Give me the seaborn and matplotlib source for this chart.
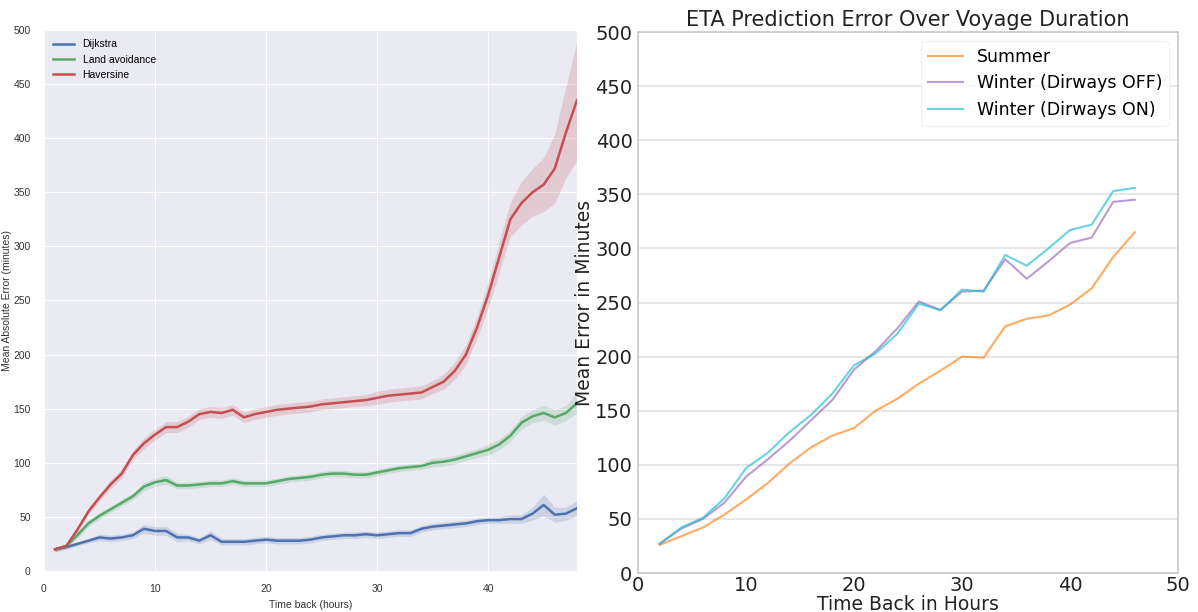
import matplotlib
matplotlib.use("Agg")
import matplotlib.pyplot as plt
import seaborn as sns
import pandas as pd

# ---- left panel: error vs hours back, three routing methods ----
hours = list(range(1, 49))
dijkstra = [20, 22, 25, 28, 31, 30, 31, 33, 39, 37, 37, 31, 31, 28, 33, 27,
            27, 27, 28, 29, 28, 28, 28, 29, 31, 32, 33, 33, 34, 33, 34, 35,
            35, 39, 41, 42, 43, 44, 46, 47, 47, 48, 48, 53, 61, 52, 53, 58]
land_avoid = [20, 23, 33, 44, 51, 57, 63, 69, 78, 82, 84, 79, 79, 80, 81, 81,
              83, 81, 81, 81, 83, 85, 86, 87, 89, 90, 90, 89, 89, 91, 93, 95,
              96, 97, 100, 101, 103, 106, 109, 112, 117, 125, 137, 143, 146, 142, 146, 155]
haversine = [20, 23, 38, 55, 68, 80, 90, 107, 118, 126, 133, 133, 138, 145, 147, 146,
             149, 142, 145, 147, 149, 150, 151, 152, 154, 155, 156, 157, 158, 160, 162, 163,
             164, 165, 170, 175, 185, 200, 225, 255, 290, 325, 340, 350, 357, 372, 405, 435]
# half widths of the confidence bands
dijkstra_ci = [2, 2, 2, 2, 3, 3, 3, 3, 4, 4, 4, 4, 3, 3, 4, 3,
               3, 3, 3, 3, 3, 3, 3, 3, 3, 3, 3, 3, 3, 3, 3, 3,
               3, 3, 3, 3, 3, 3, 3, 3, 3, 4, 4, 6, 10, 7, 6, 7]
land_ci = [2, 2, 3, 3, 3, 3, 3, 3, 4, 4, 4, 3, 3, 3, 3, 3,
           3, 3, 3, 3, 3, 3, 3, 3, 3, 3, 3, 3, 3, 3, 3, 3,
           3, 3, 4, 4, 4, 4, 4, 5, 5, 5, 6, 6, 7, 7, 7, 9]
haversine_ci = [2, 2, 3, 3, 3, 4, 4, 4, 5, 5, 5, 5, 5, 5, 5, 5,
                5, 5, 5, 5, 5, 5, 5, 5, 5, 5, 5, 5, 5, 6, 6, 6,
                6, 6, 6, 7, 8, 9, 10, 12, 14, 16, 20, 22, 25, 32, 42, 55]

# ---- right panel: ETA prediction error ----
hours_back = list(range(2, 47, 2))
summer = [26, 34, 42, 54, 68, 83, 101, 116, 127, 134, 150, 161, 175, 187, 200, 199,
          228, 235, 238, 248, 263, 292, 315]
winter_off = [27, 41, 50, 65, 89, 105, 122, 141, 160, 188, 205, 226, 251, 243, 260, 261,
              290, 272, 288, 305, 310, 343, 345]
winter_on = [27, 42, 51, 69, 97, 111, 130, 146, 166, 192, 203, 221, 249, 243, 262, 260,
             294, 284, 300, 317, 322, 353, 356]

fig = plt.figure(figsize=(11.98, 6.12), dpi=100)

with sns.axes_style("darkgrid"):
    ax1 = fig.add_axes([0.0367, 0.067, 0.4449, 0.884])

left_df = pd.DataFrame({
    "hours": hours * 3,
    "err": dijkstra + land_avoid + haversine,
    "method": ["Dijkstra"] * 48 + ["Land avoidance"] * 48 + ["Haversine"] * 48,
})
deep = ["#4C72B0", "#55A868", "#C44E52"]
sns.lineplot(data=left_df, x="hours", y="err", hue="method", palette=deep,
             linewidth=1.8, ax=ax1)
for vals, ci, c in zip([dijkstra, land_avoid, haversine],
                       [dijkstra_ci, land_ci, haversine_ci], deep):
    lo = [v - e for v, e in zip(vals, ci)]
    hi = [v + e for v, e in zip(vals, ci)]
    ax1.fill_between(hours, lo, hi, color=c, alpha=0.2, linewidth=0)

narrow = ["Liberation Sans Narrow", "Liberation Sans", "DejaVu Sans"]
ax1.set_xlim(0, 48)
ax1.set_ylim(0, 500)
ax1.set_xticks([0, 10, 20, 30, 40])
ax1.set_yticks(range(0, 501, 50))
ax1.tick_params(labelsize=7.5, colors="#333333", pad=6)
for lab in ax1.get_xticklabels() + ax1.get_yticklabels():
    lab.set_family(narrow)
ax1.set_xlabel("Time back (hours)", fontsize=7.5, family=narrow, color="#333333")
ax1.set_ylabel("Mean Absolute Error (minutes)", fontsize=7.5, family=narrow,
               color="#333333", labelpad=1)
leg1 = ax1.legend(loc="upper left", frameon=False, fontsize=7.5)
for t in leg1.get_texts():
    t.set_family(narrow)

# right panel in plain style
ax2 = fig.add_axes([0.5326, 0.0637, 0.4507, 0.884])
ax2.set_facecolor("white")
right_df = pd.DataFrame({
    "hb": hours_back * 3,
    "err": summer + winter_off + winter_on,
    "season": ["Summer"] * 23 + ["Winter (Dirways OFF)"] * 23 + ["Winter (Dirways ON)"] * 23,
})
sns.lineplot(data=right_df, x="hb", y="err", hue="season",
             palette=["tab:orange", "tab:purple", "tab:cyan"], alpha=0.65,
             linewidth=1.5, ax=ax2)
ax2.set_xlim(0, 50)
ax2.set_ylim(0, 500)
ax2.set_xticks(range(0, 51, 10))
ax2.set_yticks(range(0, 501, 50))
ax2.yaxis.grid(True, color="#e3e3e3", linewidth=1.2)
ax2.xaxis.grid(False)
for s in ax2.spines.values():
    s.set_color("#c8c8c8")
    s.set_linewidth(1.2)
ax2.tick_params(labelsize=14, colors="#222222", length=0)
ax2.tick_params(axis="y", pad=4)
ax2.tick_params(axis="x", pad=2)
ax2.set_xlabel("Time Back in Hours", fontsize=13.5, color="#222222", labelpad=0)
ax2.set_ylabel("Mean Error in Minutes", fontsize=13.5, color="#222222", labelpad=1)
ax2.set_title("ETA Prediction Error Over Voyage Duration", fontsize=15, color="#222222", pad=4)
leg2 = ax2.legend(loc="upper right", fontsize=12.5, frameon=True, framealpha=0.8,
                  edgecolor="#eeeeee", title=None)
for line in leg2.get_lines():
    line.set_alpha(0.65)

fig.savefig("out.png", dpi=100)
